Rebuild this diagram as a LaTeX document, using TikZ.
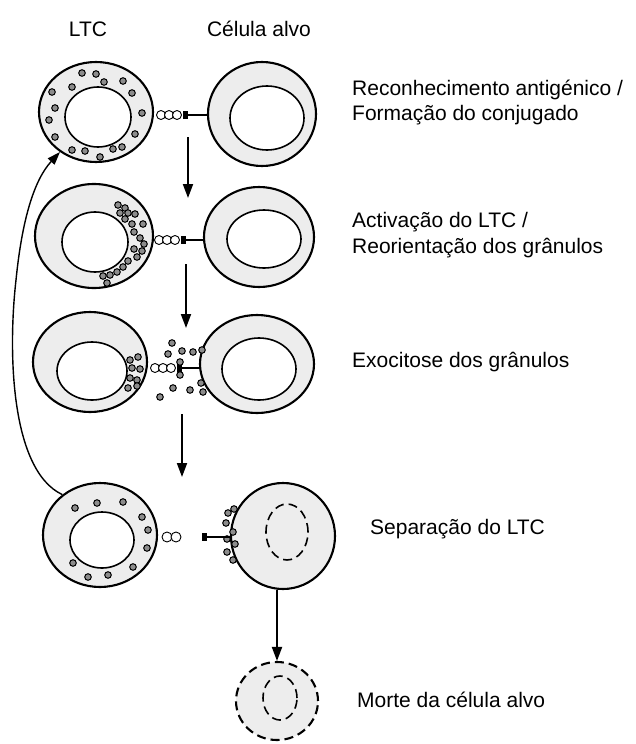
\documentclass[tikz,border=0pt]{standalone}
\usepackage{fontspec}
\setmainfont{Liberation Sans}
\usetikzlibrary{shapes.geometric,arrows.meta}

\tikzset{
  cellbody/.style={ellipse, draw, line width=2.1pt, fill=black!7, inner sep=0pt},
  nucleus/.style={ellipse, draw, line width=1.6pt, fill=white, inner sep=0pt},
  deadline/.style={ellipse, draw, line width=2.1pt, dash pattern=on 9pt off 5pt, inner sep=0pt},
  gran/.style={draw, line width=1pt, fill=black!45},
  receptor/.style={draw, line width=0.9pt, fill=white},
  tcrhead/.style={rectangle, fill=black, inner sep=0pt, minimum width=5pt, minimum height=8pt},
  bond/.style={line width=1.2pt},
  steparrow/.style={line width=1.9pt, -{Triangle[length=14pt,width=10pt]}},
  returnarrow/.style={line width=1.4pt, -{Triangle[length=13pt,width=9pt]}},
  caption/.style={anchor=base west, inner sep=0pt, font=\fontsize{21}{25}\selectfont},
  header/.style={anchor=base, inner sep=0pt, font=\fontsize{21}{25}\selectfont}
}

\begin{document}
\begin{tikzpicture}[x=1pt,y=-1pt]
\useasboundingbox[fill=white] (0,0) rectangle (636,744);

% column headers
\node[header] (hltc) at (88,36) {LTC};
\node[header] (htgt) at (259,36) {Célula alvo};

% ---------- stage 1: conjugate formation ----------
\node[cellbody, minimum width=114pt, minimum height=100pt] (ltc1) at (96,112) {};
\node[nucleus, minimum width=66pt, minimum height=60pt] (ltc1n) at (98,117) {};
\node[cellbody, minimum width=108pt, minimum height=104pt] (tgt1) at (262,114) {};
\node[nucleus, minimum width=74pt, minimum height=64pt] (tgt1n) at (267,118) {};
\foreach \gx/\gy in {82/73,96/74,104/82,123/81,72/87,52/92,132/93,55/108,142/113,
                     49/120,135/134,55/137,72/150,85/151,100/157,113/149,122/147}
  \draw[gran] (\gx,\gy) circle[radius=3.3];
\foreach \cx in {161,169,177} \draw[receptor] (\cx,115) circle[radius=4.5];
\node[tcrhead] (tcr1) at (185,115) {};
\draw[bond] (tcr1.east) -- (tcr1.east -| tgt1.west);

% ---------- stage 2: activation / granule reorientation ----------
\node[cellbody, minimum width=118pt, minimum height=104pt] (ltc2) at (94,236) {};
\node[nucleus, minimum width=66pt, minimum height=60pt] (ltc2n) at (95,242) {};
\node[cellbody, minimum width=110pt, minimum height=100pt] (tgt2) at (259,237) {};
\node[nucleus, minimum width=74pt, minimum height=58pt] (tgt2n) at (264,239) {};
\foreach \gx/\gy in {118/205,125/208,120/213,128/213,135/214,125/219,132/224,143/224,
                     134/232,140/238,144/244,134/249,142/251,137/257,128/261,123/267,
                     117/272,110/275,103/276,107/283}
  \draw[gran] (\gx,\gy) circle[radius=3.3];
\foreach \cx in {159,167,175} \draw[receptor] (\cx,240) circle[radius=4.5];
\node[tcrhead] (tcr2) at (183,240) {};
\draw[bond] (tcr2.east) -- (tcr2.east -| tgt2.west);

% ---------- stage 3: granule exocytosis ----------
\node[cellbody, minimum width=114pt, minimum height=100pt] (ltc3) at (90,362) {};
\node[nucleus, minimum width=70pt, minimum height=58pt] (ltc3n) at (92,371) {};
\node[cellbody, minimum width=114pt, minimum height=98pt] (tgt3) at (257,364) {};
\node[nucleus, minimum width=74pt, minimum height=62pt] (tgt3n) at (259,369) {};
\foreach \gx/\gy in {130/360,138/357,132/368,140/369,130/378,137/380,128/388,137/386}
  \draw[gran] (\gx,\gy) circle[radius=3.3];
\foreach \cx in {155,163,171} \draw[receptor] (\cx,368) circle[radius=4.5];
\node[tcrhead] (tcr3) at (179,368) {};
\draw[bond] (tcr3.east) -- (tcr3.east -| tgt3.west);
\foreach \gx/\gy in {172/343,182/351,193/352,202/350,168/354,180/362,180/375,
                     173/388,190/390,160/397,201/383,203/392}
  \draw[gran] (\gx,\gy) circle[radius=3.3];

% ---------- stage 4: detachment ----------
\node[cellbody, minimum width=114pt, minimum height=104pt] (ltc4) at (100,535) {};
\node[nucleus, minimum width=64pt, minimum height=56pt] (ltc4n) at (102,540) {};
\node[cellbody, minimum width=104pt, minimum height=106pt] (tgt4) at (283,536) {};
\node[deadline, line width=1.6pt, minimum width=42pt, minimum height=56pt] (tgt4n) at (287,532) {};
\foreach \gx/\gy in {75/508,97/503,123/502,142/517,148/530,147/548,133/567,108/575,88/577,73/563}
  \draw[gran] (\gx,\gy) circle[radius=3.3];
\foreach \gx/\gy in {228/513,234/509,226/523,233/532,227/539,235/544,227/552,233/560}
  \draw[gran] (\gx,\gy) circle[radius=3.3];
\foreach \cx in {167,176} \draw[receptor] (\cx,537) circle[radius=5];
\node[tcrhead] (tcr4) at (204,537) {};
\draw[bond] (tcr4.east) -- (tcr4.east -| tgt4.west);

% ---------- stage 5: target cell death ----------
\node[deadline, fill=black!7, minimum width=82pt, minimum height=78pt] (tgt5) at (277,701) {};
\node[deadline, line width=1.6pt, minimum width=34pt, minimum height=44pt] (tgt5n) at (280,698) {};

% progression arrows
\coordinate (a1s) at (188,137); \coordinate (a1e) at (188,198);
\coordinate (a2s) at (186,264); \coordinate (a2e) at (186,328);
\coordinate (a3s) at (182,414); \coordinate (a3e) at (182,477);
\draw[steparrow] (a1s) -- (a1e);
\draw[steparrow] (a2s) -- (a2e);
\draw[steparrow] (a3s) -- (a3e);
\draw[steparrow] (tgt4.south -| tgt5.north) -- (tgt5.north);

% the released LTC is recycled to attack another target
\draw[returnarrow] (ltc4.133) .. controls (10,470) and (8,350) .. (16,280)
                   .. controls (22,220) and (34,180) .. (ltc1.228);

% stage captions
\node[caption] (c1a) at (352,95)  {Reconhecimento antigénico /};
\node[caption] (c1b) at (352,120) {Formação do conjugado};
\node[caption] (c2a) at (352,227) {Activação do LTC /};
\node[caption] (c2b) at (352,253) {Reorientação dos grânulos};
\node[caption] (c3)  at (352,367) {Exocitose dos grânulos};
\node[caption] (c4)  at (370,534) {Separação do LTC};
\node[caption] (c5)  at (357,707) {Morte da célula alvo};
\end{tikzpicture}
\end{document}
